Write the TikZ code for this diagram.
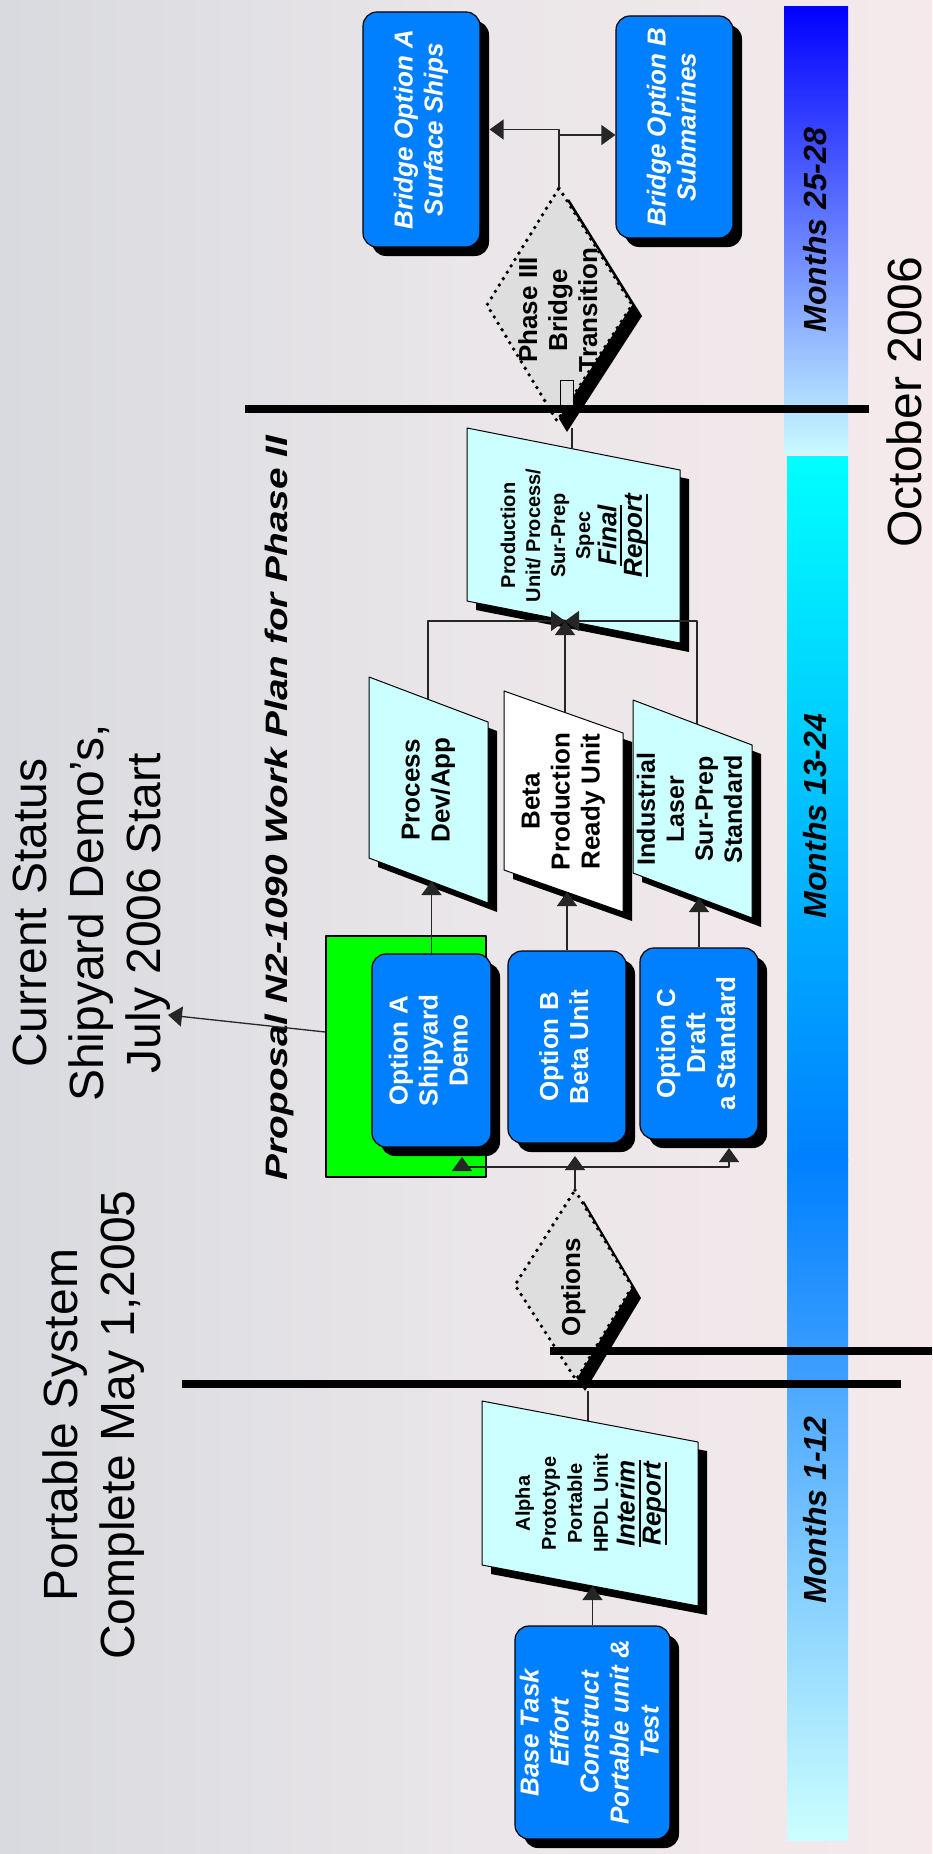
\documentclass[tikz,border=0pt]{standalone}
\usepackage{fontspec}
\setmainfont{Liberation Sans}
\usepackage{graphicx}
\usetikzlibrary{arrows.meta,shadows}
\definecolor{boxblue}{RGB}{0,128,255}
\definecolor{lcyan}{RGB}{204,255,255}
\definecolor{dgray}{RGB}{222,222,222}
\definecolor{bgleft}{RGB}{216,218,223}
\definecolor{bgmid}{RGB}{234,230,233}
\definecolor{bgright}{RGB}{245,233,235}
\definecolor{cgreen}{RGB}{0,255,0}
\definecolor{bluetop}{RGB}{0,0,255}
\definecolor{palecyan}{RGB}{200,250,255}
\definecolor{midblue}{RGB}{0,128,255}
\definecolor{lblue}{RGB}{64,160,255}
\definecolor{lblueb}{RGB}{77,168,255}
\definecolor{cyanc}{RGB}{0,255,255}
\newcommand{\fsz}[2]{\fontsize{#1}{#2}\selectfont}
\newcommand{\rtext}[1]{\rotatebox{90}{\begin{tabular}{@{}c@{}}#1\end{tabular}}}
\newcommand{\thul}[1]{\setbox0=\hbox{#1}\leavevmode\rlap{\raisebox{-6pt}{\rule{\wd0}{2pt}}}\box0}
\newcommand{\paral}[7]{%
  \fill[black] (#2+9,#3+9) -- ++(#4,#6) -- ++(0,#5) -- ++(-#4,-#6) -- cycle;
  \filldraw[fill=#7,draw=black,line width=1pt] (#2,#3) -- ++(#4,#6) -- ++(0,#5) -- ++(-#4,-#6) -- cycle;
  \coordinate (#1) at (#2+#4/2,#3+#5/2+#6/2);}
\tikzset{
  rbox/.style={draw=black,line width=1.2pt,fill=boxblue,rounded corners=14pt,inner sep=0pt,text=white,
    drop shadow={shadow xshift=9pt,shadow yshift=-9pt,opacity=1,fill=black}},
  conn/.style={draw=black!85,line width=1.3pt},
  arr/.style={conn,-{Triangle[width=20pt,length=14pt]}},
  bigline/.style={line width=8pt,draw=black},
  dotedge/.style={draw=black,line width=3.8pt,line cap=round,dash pattern=on 0pt off 7.5pt},
  txt/.style={inner sep=0pt,text=black},
  title/.style={inner sep=0pt,rotate=90,align=center,font=\fsz{48}{57}},
  monthlbl/.style={inner sep=0pt,rotate=90,font=\fsz{32}{38}\bfseries\itshape},
}
\begin{document}
\begin{tikzpicture}[x=1pt,y=-1pt,line join=round]
\useasboundingbox (0,0) rectangle (932,1854);
% background
\shade[left color=bgleft,right color=bgright,middle color=bgmid] (0,0) rectangle (932,1854);
% month bars
\shade[top color=bluetop,bottom color=palecyan] (784,7) rectangle (848,453);
\shade[top color=cyanc,bottom color=midblue] (787,456) rectangle (848,1160);
\shade[top color=midblue,bottom color=lblue] (787,1159) rectangle (848,1384);
\shade[top color=lblueb,bottom color=lcyan] (787,1387) rectangle (848,1840);
% green highlight
\node[draw=black,line width=1.5pt,fill=cgreen,minimum width=160pt,minimum height=241pt,inner sep=0pt] (green) at (406,1056.5) {};
% rounded boxes
\node[rbox,minimum width=155pt,minimum height=213pt] (base) at (592.5,1732.5)
  {\fsz{26}{30}\bfseries\itshape\rtext{Base Task\\Effort\\Construct\\Portable unit \&\\Test}};
\node[rbox,minimum width=119pt,minimum height=193pt] (optA) at (431.5,1050.5)
  {\fsz{26}{30}\bfseries\rtext{Option A\\Shipyard\\Demo}};
\node[rbox,minimum width=118pt,minimum height=192pt] (optB) at (567,1047)
  {\fsz{26}{30}\bfseries\rtext{Option B\\Beta Unit}};
\node[rbox,minimum width=118pt,minimum height=191pt] (optC) at (699,1043.5)
  {\fsz{26}{30}\bfseries\rtext{Option C\\Draft\\a Standard}};
\node[rbox,minimum width=117pt,minimum height=235pt] (bridgeA) at (421.5,129.5)
  {\fsz{26}{30}\bfseries\itshape\rtext{Bridge Option A\\Surface Ships}};
\node[rbox,minimum width=117pt,minimum height=222pt] (bridgeB) at (674.5,127)
  {\fsz{26}{30}\bfseries\itshape\rtext{Bridge Option B\\Submarines}};
% parallelograms
\paral{alphaC}{482}{1401}{216}{164}{41}{lcyan}
\paral{procC}{369}{677}{119}{181}{45}{lcyan}
\paral{betaC}{504}{691}{119}{179}{42}{white}
\paral{indC}{633}{700}{119}{173}{45}{lcyan}
\paral{prodC}{467}{428}{213}{173}{42}{lcyan}
\node[txt,font=\fsz{20}{26}\bfseries] (alpha) at (alphaC)
  {\rtext{Alpha\\Prototype\\Portable\\HPDL Unit\\{\fsz{26}{30}\itshape\thul{Interim}}\\{\fsz{26}{30}\itshape\thul{Report}}}};
\node[txt,font=\fsz{26}{30}\bfseries] (proc) at (procC) {\rtext{Process\\Dev/App}};
\node[txt,font=\fsz{26}{30}\bfseries] (beta) at (betaC) {\rtext{Beta\\Production\\Ready Unit}};
\node[txt,font=\fsz{25}{29}\bfseries] (ind) at (indC) {\rtext{Industrial\\Laser\\Sur-Prep\\Standard}};
\node[txt,font=\fsz{20}{25}\bfseries] (prod) at (prodC)
  {\rtext{Production\\Unit/ Process/\\Sur-Prep\\Spec\\{\fsz{26}{30}\itshape\thul{Final}}\\{\fsz{26}{30}\itshape\thul{Report}}}};
% diamonds
\fill[black,shift={(9,11)}] (575,1190) -- (632,1287) -- (576,1380) -- (515,1285) -- cycle;
\fill[dgray] (575,1190) -- (632,1287) -- (576,1380) -- (515,1285) -- cycle;
\draw[dotedge] (575,1190) -- (632,1287) -- (576,1380) -- (515,1285) -- cycle;
\node[txt,font=\fsz{26}{30}\bfseries] (opts) at (574,1287) {\rtext{Options}};
\fill[black,shift={(10,11)}] (559,188) -- (632,305) -- (557,421) -- (487,305) -- cycle;
\fill[dgray] (559,188) -- (632,305) -- (557,421) -- (487,305) -- cycle;
\draw[dotedge] (559,188) -- (632,305) -- (557,421) -- (487,305) -- cycle;
\draw[line width=0.8pt,fill=dgray] (560,380) rectangle (573,405);
\node[txt,font=\fsz{26}{30}\bfseries] (ph3) at (561,310) {\rtext{Phase III\\Bridge\\Transition}};
% titles
\node[title] (t1) at (94,1425) {Portable System\\Complete May 1,2005};
\node[title] (t2) at (92,913) {Current Status\\Shipyard Demo’s,\\July 2006 Start};
\node[inner sep=0pt,rotate=90,anchor=base,font=\fsz{48}{56}] (oct) at (921,402) {October 2006};
\node[inner sep=0pt,rotate=90,font=\fsz{31}{36}\bfseries\itshape] (prop) at (279,808)
  {\scalebox{1.25}[1]{Proposal N2-1090 Work Plan for Phase II}};
% month labels
\node[monthlbl] (m1) at (815,1510) {Months 1-12};
\node[monthlbl] (m2) at (815,816) {Months 13-24};
\node[monthlbl] (m3) at (815,230) {Months 25-28};
% connector points
\coordinate (alphaIn) at (592.5,1586);
\coordinate (alphaOut) at (588,1421);
\coordinate (optsB) at (588,1391);
\coordinate (optsT) at (575,1190);
\coordinate (split) at (575,1167);
\coordinate (optAin) at (462,1157);
\coordinate (optBin) at (575,1156);
\coordinate (optCin) at (729,1148);
\coordinate (procIn) at (431.5,881);
\coordinate (betaIn) at (567,892);
\coordinate (indIn) at (699,898);
\coordinate (procOut) at (428,699);
\coordinate (betaOut) at (565,712);
\coordinate (indOut) at (697,724);
\coordinate (prodIn) at (565,621);
\coordinate (prodOut) at (572,449);
\coordinate (ph3B) at (572,428);
\coordinate (ph3T) at (559,188);
\coordinate (bsplit) at (559,135);
\coordinate (csTip) at (168,1015);
% connectors
\draw[arr] (base.north) -- (alphaIn);
\draw[conn] (alphaOut) -- (optsB);
\draw[conn] (optsT) -- (split);
\draw[arr] (split) -- (optBin);
\draw[arr] (split) -| (optAin);
\draw[arr] (split) -| (optCin);
\draw[arr] (optA.north) -- (procIn);
\draw[arr] (optB.north) -- (betaIn);
\draw[arr] (optC.north) -- (indIn);
\draw[arr] (procOut) |- (prodIn);
\draw[arr] (indOut) |- (prodIn);
\draw[arr] (betaOut) -- (prodIn);
\draw[conn] (prodOut) -- (ph3B);
\draw[arr] (ph3T) |- ([xshift=9pt]bridgeA.east);
\draw[arr] (bsplit) -- (bsplit -| bridgeB.west);
\draw[arr] ([yshift=24.5pt]green.west) -- (csTip);
% phase separators
\draw[bigline] (550,1351) -- (932,1351);
\draw[bigline] (182,1384) -- (901,1384);
\draw[bigline] (245,409) -- (869,409);
\end{tikzpicture}
\end{document}
